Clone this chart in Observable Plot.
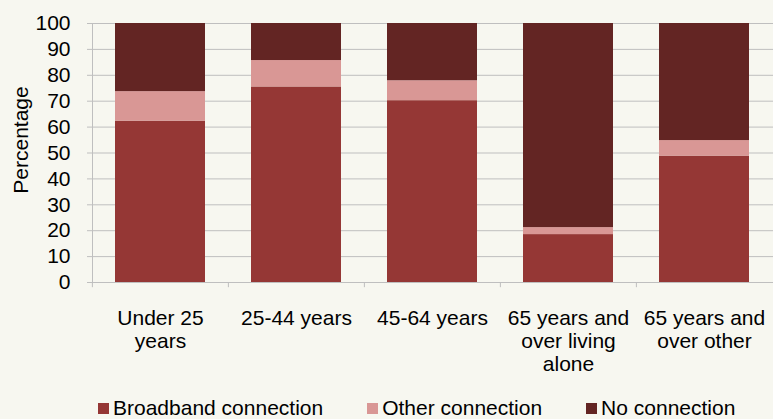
<!DOCTYPE html>
<html>
<head>
<meta charset="utf-8">
<script src="https://cdn.jsdelivr.net/npm/d3@7"></script>
<script src="https://cdn.jsdelivr.net/npm/@observablehq/plot@0.6"></script>
<style>
  html, body { margin: 0; padding: 0; background: #f7f7f0; overflow: hidden; }
  body { width: 773px; height: 419px; font-family: "Liberation Sans", Arial, sans-serif; }
  #chart svg { display: block; }
  .legend { display: flex; gap: 44px; margin-left: 98px; margin-top: -4px; font-size: 21px; line-height: 24px; color: #000; white-space: nowrap; }
  .legend .sw { display: inline-block; width: 11px; height: 11px; margin-right: 4px; vertical-align: 1px; }
</style>
</head>
<body>
<div id="chart"></div>
<script>
const categories = ["Under 25\nyears", "25-44 years", "45-64 years", "65 years and\nover living\nalone", "65 years and\nover other"];
const seriesNames = ["Broadband connection", "Other connection", "No connection"];
const broadband = [62.3, 75.5, 70.2, 18.5, 48.8];
const other = [11.4, 10.2, 7.7, 2.7, 6.0];
const noConnection = [26.3, 14.3, 22.1, 78.8, 45.2];
const colors = ["#953735", "#d99795", "#632523"];
const yTicks = [0, 10, 20, 30, 40, 50, 60, 70, 80, 90, 100];

const seriesValues = [broadband, other, noConnection];
const rows = [];
seriesNames.forEach((s, si) => categories.forEach((c, ci) => rows.push({category: c, series: s, value: seriesValues[si][ci]})));

const W = 773, H = 400, ML = 92, MR = 0, MT = 23, MB = 118;
const step = (W - ML - MR) / categories.length;

const chart = Plot.plot({
  width: W, height: H,
  marginLeft: ML, marginRight: MR, marginTop: MT, marginBottom: MB,
  style: {background: "transparent", color: "#000", fontFamily: "'Liberation Sans', Arial, sans-serif", fontSize: "21px", overflow: "visible"},
  x: {domain: categories, paddingInner: 0.337, paddingOuter: 0.1685, align: 0.5},
  y: {domain: [0, 100]},
  color: {domain: seriesNames, range: colors},
  marks: [
    Plot.gridY(yTicks, {stroke: "#bfbfbf", strokeOpacity: 1, strokeWidth: 1}),
    Plot.barY(rows, {x: "category", y: "value", fill: "series", order: seriesNames}),
    Plot.frame({anchor: "left", stroke: "#bfbfbf", strokeWidth: 1}),
    Plot.ruleX(categories, {x: d => d, dx: -step / 2, y1: 0, y2: -2, stroke: "#bfbfbf", strokeWidth: 1}),
    Plot.axisY(yTicks, {tickSize: 5, tickPadding: 17, stroke: "#bfbfbf", fill: "#000", fontSize: 21, label: null}),
    Plot.axisX({tickSize: 0, tickPadding: 26, fill: "#000", fontSize: 21, lineHeight: 1.1, label: null, lineAnchor: "top"}),
    Plot.text(["Percentage"], {frameAnchor: "left", rotate: -90, dx: -71, dy: -13, fontSize: 21, fill: "#000", textAnchor: "middle", lineAnchor: "middle"})
  ]
});
document.getElementById("chart").appendChild(chart);

const legend = document.createElement("div");
legend.className = "legend";
seriesNames.forEach((s, i) => {
  const item = document.createElement("span");
  const sw = document.createElement("span");
  sw.className = "sw";
  sw.style.background = colors[i];
  item.appendChild(sw);
  item.appendChild(document.createTextNode(s));
  legend.appendChild(item);
});
document.body.appendChild(legend);
</script>
</body>
</html>
